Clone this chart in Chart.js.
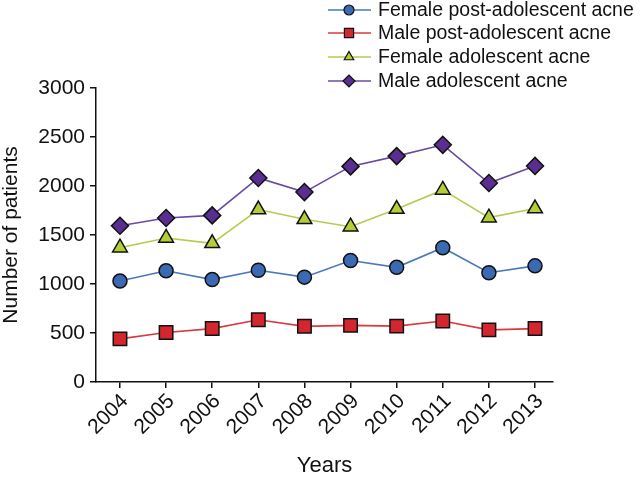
<!DOCTYPE html>
<html>
<head>
<meta charset="utf-8">
<script src="https://cdn.jsdelivr.net/npm/chart.js@4/dist/chart.umd.min.js"></script>
<style>
  html, body { margin: 0; padding: 0; background: #fff; }
  #wrap { width: 643px; height: 477px; }
</style>
</head>
<body>
<div id="wrap"><canvas id="acneChart"></canvas></div>
<script>
const years = [2004, 2005, 2006, 2007, 2008, 2009, 2010, 2011, 2012, 2013];
const femalePost = [1030, 1135, 1045, 1140, 1070, 1240, 1170, 1370, 1115, 1185];
const malePost = [440, 505, 545, 635, 568, 578, 570, 622, 532, 545];
const femaleAdol = [1370, 1470, 1415, 1760, 1660, 1585, 1765, 1960, 1677, 1770];
const maleAdol = [1595, 1673, 1700, 2082, 1938, 2200, 2305, 2420, 2030, 2205];
const yTicks = [0, 500, 1000, 1500, 2000, 2500, 3000];

const FONT = '"Liberation Sans", Arial, Helvetica, sans-serif';

const series = [
    { label: 'Female post-adolescent acne', data: femalePost, line: '#4a78bd', fill: '#3b69b3', style: 'circle', r: 7, lr: 5 },
    { label: 'Male post-adolescent acne', data: malePost, line: '#d83a40', fill: '#d3262e', style: 'rect', r: 9.5, lr: 6.5 },
    { label: 'Female adolescent acne', data: femaleAdol, line: '#b2cc4c', fill: '#b3cf36', style: 'triangle', r: 8.5, lr: 5.5 },
    { label: 'Male adolescent acne', data: maleAdol, line: '#6a4aa0', fill: '#5a2d90', style: 'rectRot', r: 8.5, lr: 6 },
];

const datasets = series.map(s => ({
    label: s.label,
    data: s.data.map((v, i) => ({ x: years[i], y: v })),
    borderColor: s.line,
    borderWidth: 1.6,
    backgroundColor: s.fill,
    pointStyle: s.style,
    pointRadius: s.r,
    pointHoverRadius: s.r,
    pointBackgroundColor: s.fill,
    pointBorderColor: '#111',
    pointBorderWidth: 1.5,
    tension: 0,
}));

// legend with a short line through the marker, top right
const lineLegend = {
    id: 'lineLegend',
    afterDraw(chart) {
        const ctx = chart.ctx;
        const rows = [10, 33, 57, 81];
        ctx.save();
        series.forEach((s, i) => {
            const y = rows[i];
            ctx.strokeStyle = s.line;
            ctx.lineWidth = 1.6;
            ctx.beginPath();
            ctx.moveTo(328, y);
            ctx.lineTo(371, y);
            ctx.stroke();
            ctx.fillStyle = s.fill;
            ctx.strokeStyle = '#111';
            ctx.lineWidth = 1.2;
            Chart.helpers.drawPoint(ctx, { pointStyle: s.style, radius: s.lr, rotation: 0, borderWidth: 1.2 }, 349, y);
            ctx.fillStyle = '#111';
            ctx.font = '19.5px ' + FONT;
            ctx.textBaseline = 'middle';
            ctx.textAlign = 'left';
            ctx.fillText(s.label, 378, y + 1);
        });
        ctx.restore();
    }
};

new Chart(document.getElementById('acneChart'), {
    type: 'line',
    data: { datasets },
    options: {
        responsive: true,
        maintainAspectRatio: false,
        animation: false,
        layout: { padding: { top: 88, right: 90, left: 0, bottom: 0 } },
        plugins: { legend: { display: false }, tooltip: { enabled: false } },
        scales: {
            x: {
                type: 'linear',
                min: 2003.48,
                max: 2013.39,
                afterBuildTicks: scale => { scale.ticks = years.map(v => ({ value: v })); },
                afterFit: scale => { scale.height = 95; },
                grid: { drawOnChartArea: false, drawTicks: true, tickLength: 6, color: '#111', lineWidth: 1.5 },
                border: { color: '#111', width: 1.5 },
                ticks: {
                    color: '#111',
                    font: { family: FONT, size: 21 },
                    minRotation: 45,
                    maxRotation: 45,
                    padding: 1,
                    labelOffset: 5,
                    callback: v => String(v),
                },
                title: { display: true, text: 'Years', color: '#111', font: { family: FONT, size: 22, lineHeight: 1 }, padding: 0 },
            },
            y: {
                min: 0,
                max: 3000,
                afterBuildTicks: scale => { scale.ticks = yTicks.map(v => ({ value: v })); },
                afterFit: scale => { scale.width = 96; },
                grid: { drawOnChartArea: false, drawTicks: true, tickLength: 6, color: '#111', lineWidth: 1.5 },
                border: { color: '#111', width: 1.5 },
                ticks: { color: '#111', font: { family: FONT, size: 21 }, padding: 5, callback: v => String(v) },
                title: { display: true, text: 'Number of patients', color: '#111', font: { family: FONT, size: 21, lineHeight: 1.1 }, padding: 0 },
            },
        },
    },
    plugins: [lineLegend],
});
</script>
</body>
</html>
